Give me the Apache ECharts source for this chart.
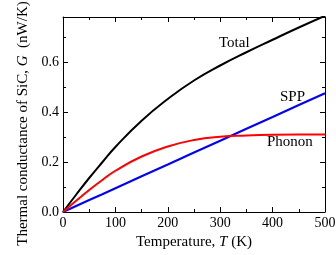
<!DOCTYPE html>
<html>
<head>
<meta charset="utf-8">
<script src="https://cdn.jsdelivr.net/npm/echarts@6/dist/echarts.min.js"></script>
<style>
  html, body { margin: 0; padding: 0; background: #fff; }
  #chart { width: 336px; height: 255px; }
</style>
</head>
<body>
<div id="chart"></div>
<script>
// temperatures (K)
const temps = [0, 25, 50, 75, 100, 150, 200, 250, 300, 350, 400, 450, 500]
// conductance values (nW/K)
const phonon = [0, 0.045, 0.088, 0.128, 0.165, 0.222, 0.262, 0.288, 0.301, 0.306, 0.309, 0.310, 0.310]
const spp = [0, 0.024, 0.048, 0.071, 0.095, 0.143, 0.190, 0.238, 0.285, 0.333, 0.380, 0.428, 0.475]
const total = [0, 0.069, 0.136, 0.199, 0.260, 0.365, 0.452, 0.526, 0.586, 0.639, 0.689, 0.738, 0.785]
const xTicks = [0, 100, 200, 300, 400, 500]

const font = 'Liberation Serif'
const pair = arr => temps.map((t, i) => [t, arr[i]])

const chart = echarts.init(document.getElementById('chart'))

const lineStyle = { color: '#000', width: 1 }
const tickStyle = { inside: true, length: 5, lineStyle: lineStyle }
const minorStyle = { show: true, splitNumber: 2, length: 3, lineStyle: lineStyle }
const nameRich = {
  a: { fontFamily: font, fontSize: 15, color: '#000' },
  i: { fontFamily: font, fontSize: 15, color: '#000', fontStyle: 'italic' }
}

chart.setOption({
  animation: false,
  grid: { left: 63, right: 11, top: 17, bottom: 43, outerBoundsMode: 'none' },
  xAxis: [{
    type: 'value',
    min: 0, max: 500, interval: 100,
    name: '{a|Temperature, }{i|T}{a| (K)}',
    nameLocation: 'middle',
    nameGap: 22,
    nameTextStyle: { rich: nameRich },
    axisLine: { onZero: false, lineStyle: lineStyle },
    axisTick: tickStyle,
    minorTick: minorStyle,
    axisLabel: {
      fontFamily: font, fontSize: 14, color: '#000', margin: 4,
      formatter: v => xTicks.includes(v) ? String(v) : ''
    },
    splitLine: { show: false }
  }, {
    type: 'value', position: 'top',
    min: 0, max: 500, interval: 100,
    axisLine: { onZero: false, lineStyle: lineStyle },
    axisTick: tickStyle,
    minorTick: minorStyle,
    axisLabel: { show: false },
    splitLine: { show: false }
  }],
  yAxis: [{
    type: 'value',
    min: 0, max: 0.78, interval: 0.2,
    name: '{a|Thermal conductance of SiC, }{i|G}{a|  (nW/K)}',
    nameLocation: 'middle',
    nameGap: 31,
    nameTextStyle: { rich: nameRich, padding: [0, 18, 0, 0] },
    axisLine: { show: true, onZero: false, lineStyle: lineStyle },
    axisTick: tickStyle,
    minorTick: minorStyle,
    axisLabel: {
      fontFamily: font, fontSize: 14, color: '#000', margin: 4,
      formatter: v => v > 0.7 ? '' : v.toFixed(1)
    },
    splitLine: { show: false }
  }, {
    type: 'value', position: 'right',
    min: 0, max: 0.78, interval: 0.2,
    axisLine: { show: true, onZero: false, lineStyle: lineStyle },
    axisTick: tickStyle,
    minorTick: minorStyle,
    axisLabel: { show: false },
    splitLine: { show: false }
  }],
  series: [{
    name: 'Total', type: 'line', data: pair(total), smooth: true,
    symbol: 'none', lineStyle: { color: '#000', width: 2 }
  }, {
    name: 'SPP', type: 'line', data: pair(spp),
    symbol: 'none', lineStyle: { color: '#0000ff', width: 2 }
  }, {
    name: 'Phonon', type: 'line', data: pair(phonon), smooth: true,
    symbol: 'none', lineStyle: { color: '#ff0000', width: 2 }
  }],
  graphic: [
    { type: 'text', left: 219, top: 36, style: { text: 'Total', font: '15px "Liberation Serif"', fill: '#000' } },
    { type: 'text', left: 280, top: 90, style: { text: 'SPP', font: '15px "Liberation Serif"', fill: '#000' } },
    { type: 'text', left: 267, top: 135, style: { text: 'Phonon', font: '15px "Liberation Serif"', fill: '#000' } }
  ]
})
</script>
</body>
</html>
